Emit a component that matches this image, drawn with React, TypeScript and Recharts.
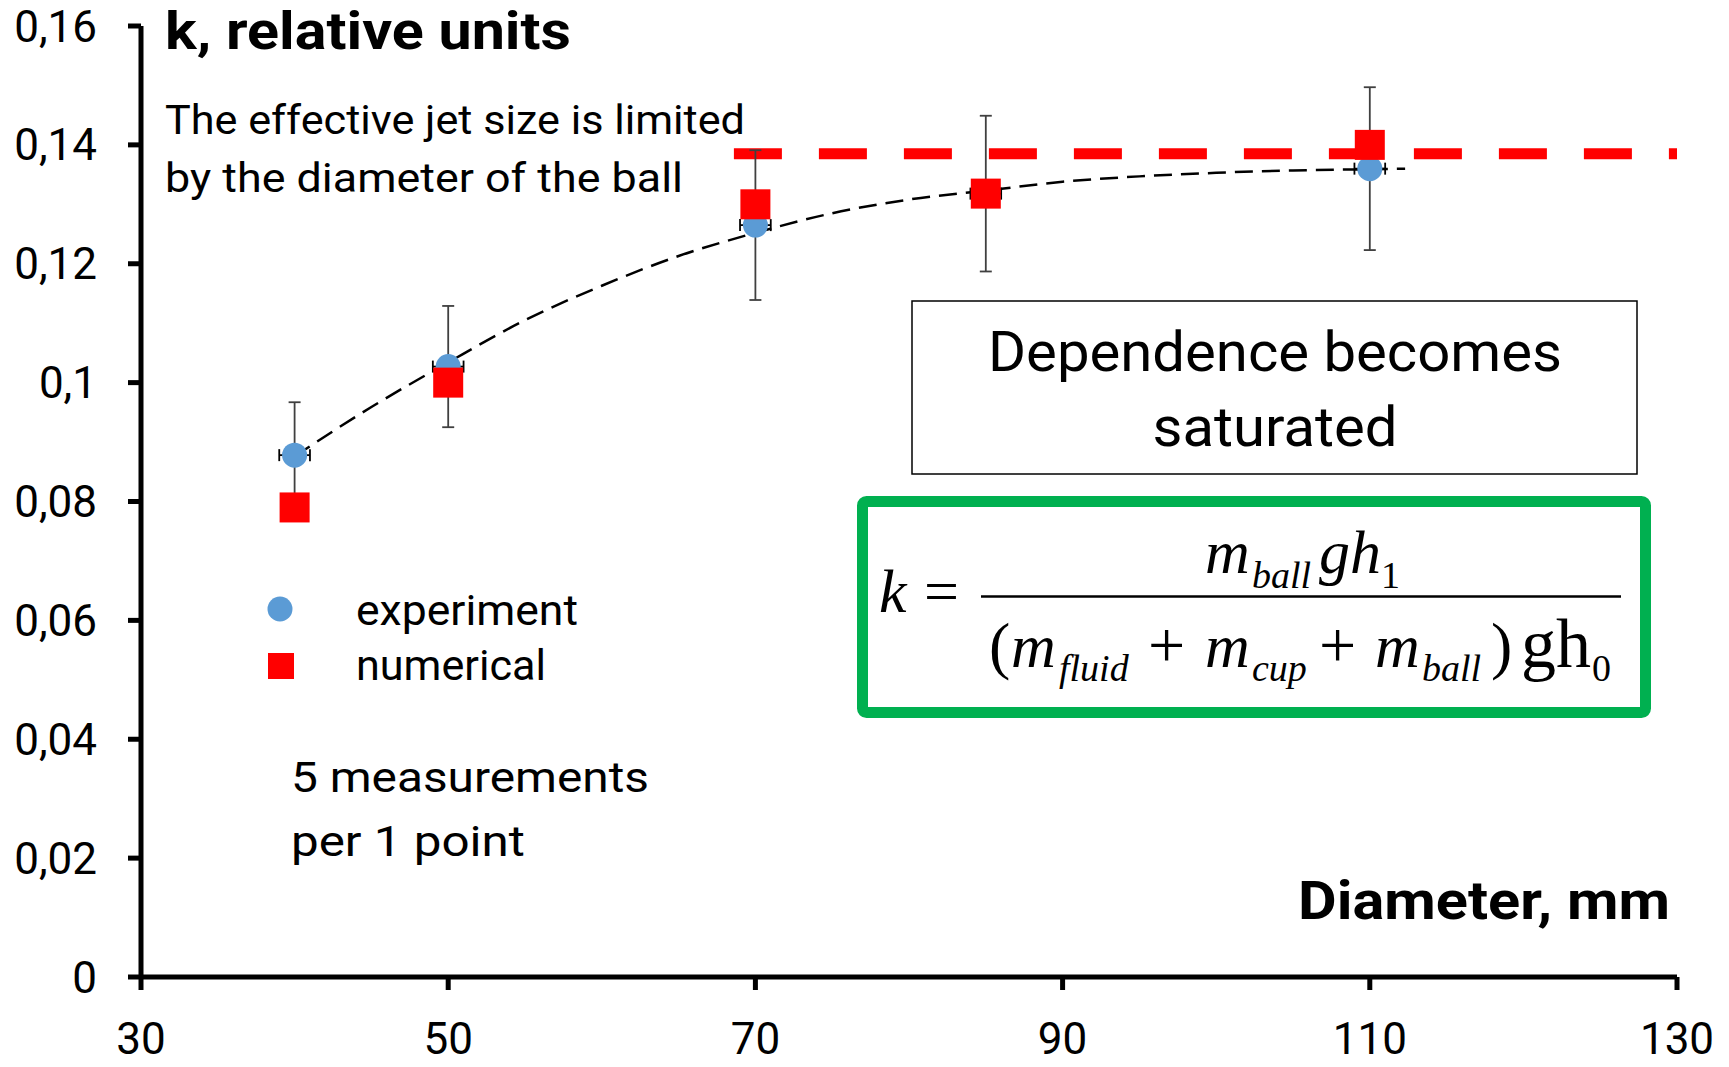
import React from 'react';
import { ComposedChart, Scatter, Line, XAxis, YAxis, ErrorBar } from 'recharts';

// values
const diameters = [40, 50, 70, 85, 110];
const experimentK = [0.0878, 0.1027, 0.1265, 0.1318, 0.136];
const experimentErrK = [0.0089, 0.0102, 0.0126, 0.0131, 0.0137];
const experimentErrD = [1, 1, 1, 1, 1];
const numericalK = [0.079, 0.1, 0.13, 0.1318, 0.14];

// dashed fit curve, read at several diameters
const trendD = [40, 45, 50, 55, 60, 65, 70, 75, 80, 85, 90, 95, 100, 105, 110, 112.3];
const trendK = [0.0876, 0.0959, 0.1034, 0.1105, 0.1163, 0.1213, 0.1252, 0.1285, 0.1308, 0.1323, 0.1338, 0.1347, 0.1353, 0.1357, 0.1359, 0.136];

// saturation level (red dashed)
const saturationD = [68.6, 130];
const saturationK = [0.1385, 0.1385];

const xTicks = [30, 50, 70, 90, 110, 130];
const yTicks = [0, 0.02, 0.04, 0.06, 0.08, 0.1, 0.12, 0.14, 0.16];

const experimentData = diameters.map((d, i) => ({
  d,
  k: experimentK[i],
  errK: experimentErrK[i],
  errD: experimentErrD[i],
}));
const numericalData = diameters.map((d, i) => ({ d, k: numericalK[i] }));
const trendData = trendD.map((d, i) => ({ d, k: trendK[i] }));
const saturationData = saturationD.map((d, i) => ({ d, k: saturationK[i] }));

const sans = "Roboto, 'Open Sans', sans-serif";
const serif = "'Liberation Serif', 'Times New Roman', serif";

const fmtK = (v: number) => (v === 0 ? '0' : String(+v.toFixed(2)).replace('.', ','));

const BlueDot = (props: any) => <circle cx={props.cx} cy={props.cy} r={12.5} fill="#5B9BD5" />;
const RedSquare = (props: any) => (
  <rect x={props.cx - 15} y={props.cy - 15} width={30} height={30} fill="#FF0000" />
);

function Overlay() {
  const it = { fontFamily: serif, fontStyle: 'italic' as const };
  const up = { fontFamily: serif };
  return (
    <svg width={1729} height={1067} style={{ position: 'absolute', left: 0, top: 0, pointerEvents: 'none' }}>
      <text x={165} y={49} fontFamily={sans} fontWeight={700} fontSize={51} textLength={406} lengthAdjust="spacingAndGlyphs">
        k, relative units
      </text>
      <text x={165} y={134} fontFamily={sans} fontSize={41} textLength={580} lengthAdjust="spacingAndGlyphs">
        The effective jet size is limited
      </text>
      <text x={165} y={192} fontFamily={sans} fontSize={41} textLength={518} lengthAdjust="spacingAndGlyphs">
        by the diameter of the ball
      </text>

      <rect x={912} y={301} width={725} height={173} fill="#fff" stroke="#000" strokeWidth={1.5} />
      <text x={1275} y={371} textAnchor="middle" fontFamily={sans} fontSize={56} textLength={574} lengthAdjust="spacingAndGlyphs">
        Dependence becomes
      </text>
      <text x={1275} y={446} textAnchor="middle" fontFamily={sans} fontSize={56} textLength={245} lengthAdjust="spacingAndGlyphs">
        saturated
      </text>

      <rect x={862.5} y={501.5} width={783} height={211} rx={4} fill="#fff" stroke="#00B050" strokeWidth={11} />
      <text x={879} y={612} fontSize={62} {...it}>k</text>
      <text x={924} y={612} fontSize={62} {...up}>=</text>
      <line x1={981} y1={596.5} x2={1621} y2={596.5} stroke="#000" strokeWidth={2.5} />
      <text x={1205} y={573} fontSize={62} {...it}>m</text>
      <text x={1252} y={588} fontSize={38} {...it}>ball</text>
      <text x={1319} y={573} fontSize={62} {...it}>g</text>
      <text x={1350} y={573} fontSize={62} {...it}>h</text>
      <text x={1381} y={588} fontSize={38} {...up}>1</text>

      <text x={989} y={667} fontSize={64} {...up}>(</text>
      <text x={1011} y={667} fontSize={62} {...it}>m</text>
      <text x={1059} y={681} fontSize={38} {...it}>fluid</text>
      <text x={1148} y={667} fontSize={66} {...up}>+</text>
      <text x={1205} y={667} fontSize={62} {...it}>m</text>
      <text x={1252} y={681} fontSize={38} {...it}>cup</text>
      <text x={1319} y={667} fontSize={66} {...up}>+</text>
      <text x={1375} y={667} fontSize={62} {...it}>m</text>
      <text x={1422} y={681} fontSize={38} {...it}>ball</text>
      <text x={1491} y={667} fontSize={64} {...up}>)</text>
      <text x={1521} y={667} fontSize={70} {...up}>gh</text>
      <text x={1592} y={681} fontSize={38} {...up}>0</text>

      <circle cx={280} cy={609} r={12.5} fill="#5B9BD5" />
      <text x={356} y={625} fontFamily={sans} fontSize={42} textLength={222} lengthAdjust="spacingAndGlyphs">
        experiment
      </text>
      <rect x={268} y={653} width={26} height={26} fill="#FF0000" />
      <text x={356} y={680} fontFamily={sans} fontSize={42} textLength={190} lengthAdjust="spacingAndGlyphs">
        numerical
      </text>

      <text x={291} y={792} fontFamily={sans} fontSize={43} textLength={358} lengthAdjust="spacingAndGlyphs">
        5 measurements
      </text>
      <text x={291} y={856} fontFamily={sans} fontSize={43} textLength={234} lengthAdjust="spacingAndGlyphs">
        per 1 point
      </text>

      <text x={1670} y={919} textAnchor="end" fontFamily={sans} fontWeight={700} fontSize={54} textLength={372} lengthAdjust="spacingAndGlyphs">
        Diameter, mm
      </text>
    </svg>
  );
}

export default function App() {
  const tickStyle = { fill: '#000', fontSize: 44, fontFamily: sans };
  const axisStyle = { stroke: '#000', strokeWidth: 5 };
  return (
    <div style={{ position: 'absolute', left: 0, top: 0, width: 1729, height: 1067, background: '#fff' }}>
      <ComposedChart width={1729} height={1067} margin={{ top: 26, right: 52, bottom: 0, left: 0 }}>
        <XAxis
          type="number"
          dataKey="d"
          domain={[30, 130]}
          ticks={xTicks}
          allowDataOverflow
          height={90}
          tick={tickStyle}
          tickSize={13}
          tickMargin={33}
          axisLine={axisStyle}
          tickLine={axisStyle}
        />
        <YAxis
          type="number"
          dataKey="k"
          domain={[0, 0.16]}
          ticks={yTicks}
          allowDataOverflow
          width={141}
          tick={tickStyle}
          tickSize={13}
          tickMargin={31}
          tickFormatter={fmtK}
          axisLine={axisStyle}
          tickLine={axisStyle}
        />
        <Line
          data={saturationData}
          dataKey="k"
          type="linear"
          stroke="#FF0000"
          strokeWidth={11}
          strokeDasharray="48 37"
          dot={false}
          activeDot={false}
          isAnimationActive={false}
        />
        <Scatter data={experimentData} dataKey="k" shape={BlueDot} isAnimationActive={false}>
          <ErrorBar dataKey="errK" direction="y" width={6} stroke="#404040" strokeWidth={1.8} />
          <ErrorBar dataKey="errD" direction="x" width={6} stroke="#000" strokeWidth={1.8} />
        </Scatter>
        <Scatter data={numericalData} dataKey="k" shape={RedSquare} isAnimationActive={false} />
        <Line
          data={trendData}
          dataKey="k"
          type="monotone"
          stroke="#000"
          strokeWidth={2.5}
          strokeDasharray="18 9"
          dot={false}
          activeDot={false}
          isAnimationActive={false}
        />
      </ComposedChart>
      <Overlay />
    </div>
  );
}
